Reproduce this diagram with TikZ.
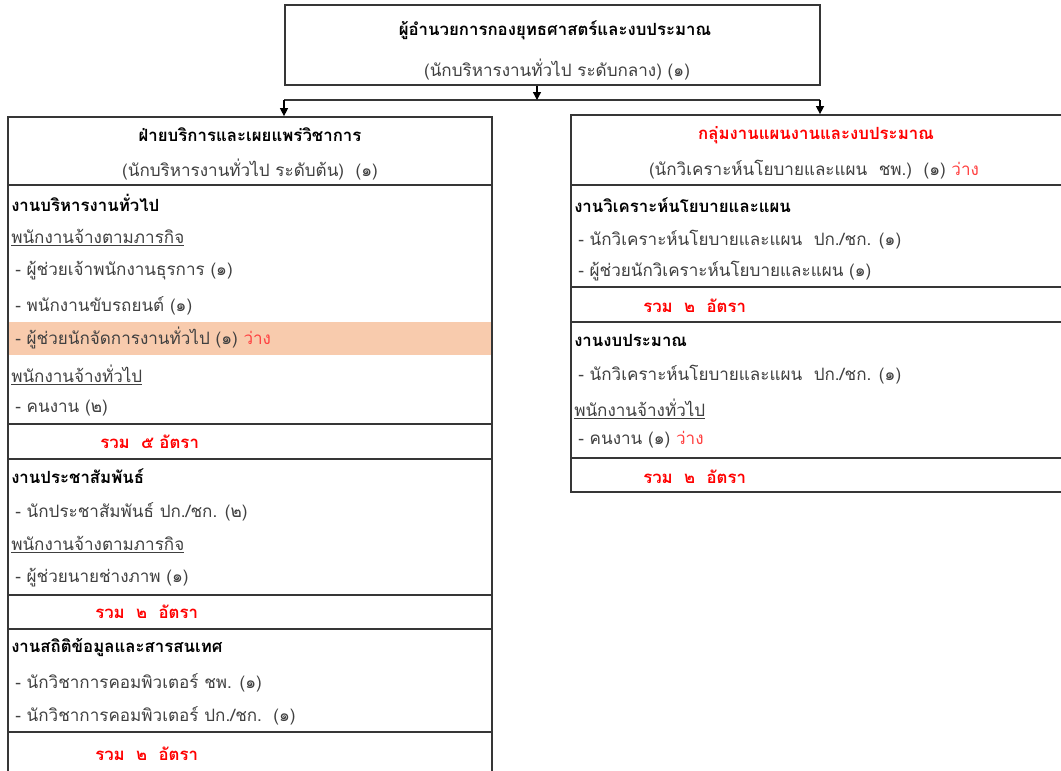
\documentclass[tikz,border=0pt]{standalone}
\usepackage{fontspec}
\usepackage{xcolor}
\usetikzlibrary{arrows.meta,fit}
\setmainfont[Script=Thai]{Loma}
\definecolor{txt}{HTML}{404040}
\definecolor{rule}{HTML}{363636}
\definecolor{peach}{HTML}{F8CBAD}
\definecolor{vacant}{HTML}{FF4040}

\begin{document}
\begin{tikzpicture}[x=0.75pt,y=-0.75pt,
	frame/.style={draw=rule,line width=1.3pt,inner sep=0pt},
	sep/.style={draw=rule,line width=1.3pt},
	arr/.style={draw=black,line width=1pt,-{Triangle[width=6pt,length=6pt]}},
	head/.style={font=\fontsize{12.6}{14}\selectfont\bfseries,text=black,inner sep=0pt},
	item/.style={font=\fontsize{12.8}{14}\selectfont,text=txt,anchor=west,inner sep=0pt},
	sect/.style={item,font=\fontsize{12.6}{14}\selectfont\bfseries,text=black},
	total/.style={item,font=\fontsize{12.6}{14}\selectfont\bfseries,text=red}]
	\useasboundingbox (0,0) rectangle (1061,771);
	\clip (0,0) rectangle (1061,771);
	\fill[white] (0,0) rectangle (1061,771);
	\fill[peach] (8,322) rectangle (492,355);
	\node[frame,fit={(285,5) (820,85)}] (dir) {};
	\node[frame,fit={(8,117) (492,790)}] (div) {};
	\node[frame,fit={(571,115) (1064,492)}] (grp) {};
	\node[head] (dirtitle) at (555,30) {ผู้อำนวยการกองยุทธศาสตร์และงบประมาณ};
	\node[item,anchor=center] (dirsub) at (557,70) {(นักบริหารงานทั่วไป ระดับกลาง) (๑)};
	\coordinate (split) at (537,100);
	\coordinate (hl) at (284,100);
	\coordinate (hr) at (820,100);
	\draw[sep] (hl) -- (hr);
	\draw[arr] (dir.south -| split) -- (split);
	\draw[arr] (hl) -- (hl |- div.north);
	\draw[arr] (hr) -- (hr |- grp.north);
	\foreach \y in {185,424,459,595,629,732}
		\draw[sep] (div.west |- 0,\y) -- (div.east |- 0,\y);
	\foreach \y in {185,287,322,458}
		\draw[sep] (grp.west |- 0,\y) -- (grp.east |- 0,\y);
	\node[head] (divtitle) at (250,135) {ฝ่ายบริการและเผยแพร่วิชาการ};
	\node[item,anchor=center] (divsub) at (250,170) {(นักบริหารงานทั่วไป ระดับต้น)\ \ (๑)};
	\node[sect] (gen) at (11,203) {งานบริหารงานทั่วไป};
	\node[item] (gen1) at (11,238) {\underline{พนักงานจ้างตามภารกิจ}};
	\node[item] (gen2) at (15,271) {- ผู้ช่วยเจ้าพนักงานธุรการ (๑)};
	\node[item] (gen3) at (15,306) {- พนักงานขับรถยนต์ (๑)};
	\node[item] (gen4) at (15,338) {- ผู้ช่วยนักจัดการงานทั่วไป (๑) \textcolor{vacant}{ว่าง}};
	\node[item] (gen5) at (11,375) {\underline{พนักงานจ้างทั่วไป}};
	\node[item] (gen6) at (15,408) {- คนงาน (๒)};
	\node[total] (gensum) at (100,442) {รวม\ \ ๕\ อัตรา};
	\node[sect] (pr) at (11,476) {งานประชาสัมพันธ์};
	\node[item] (pr1) at (15,512) {- นักประชาสัมพันธ์ ปก./ชก. (๒)};
	\node[item] (pr2) at (11,545) {\underline{พนักงานจ้างตามภารกิจ}};
	\node[item] (pr3) at (15,578) {- ผู้ช่วยนายช่างภาพ (๑)};
	\node[total] (prsum) at (95,612) {รวม\ \ ๒\ \ อัตรา};
	\node[sect] (it) at (11,648) {งานสถิติข้อมูลและสารสนเทศ};
	\node[item] (it1) at (15,683) {- นักวิชาการคอมพิวเตอร์ ชพ. (๑)};
	\node[item] (it2) at (15,716) {- นักวิชาการคอมพิวเตอร์ ปก./ชก.\ \ (๑)};
	\node[total] (itsum) at (95,754) {รวม\ \ ๒\ \ อัตรา};
	\node[head,text=red] (grptitle) at (816,135) {กลุ่มงานแผนงานและงบประมาณ};
	\node[item,anchor=center] (grpsub) at (814,170) {(นักวิเคราะห์นโยบายและแผน\ \ ชพ.)\ \ (๑) \textcolor{vacant}{ว่าง}};
	\node[sect] (plan) at (574,205) {งานวิเคราะห์นโยบายและแผน};
	\node[item] (plan1) at (578,240) {- นักวิเคราะห์นโยบายและแผน\ \ ปก./ชก. (๑)};
	\node[item] (plan2) at (578,271) {- ผู้ช่วยนักวิเคราะห์นโยบายและแผน (๑)};
	\node[total] (plansum) at (643,306) {รวม\ \ ๒\ \ อัตรา};
	\node[sect] (bud) at (574,340) {งานงบประมาณ};
	\node[item] (bud1) at (578,375) {- นักวิเคราะห์นโยบายและแผน\ \ ปก./ชก. (๑)};
	\node[item] (bud2) at (574,409) {\underline{พนักงานจ้างทั่วไป}};
	\node[item] (bud3) at (578,440) {- คนงาน (๑) \textcolor{vacant}{ว่าง}};
	\node[total] (budsum) at (643,477) {รวม\ \ ๒\ \ อัตรา};
\end{tikzpicture}
\end{document}
